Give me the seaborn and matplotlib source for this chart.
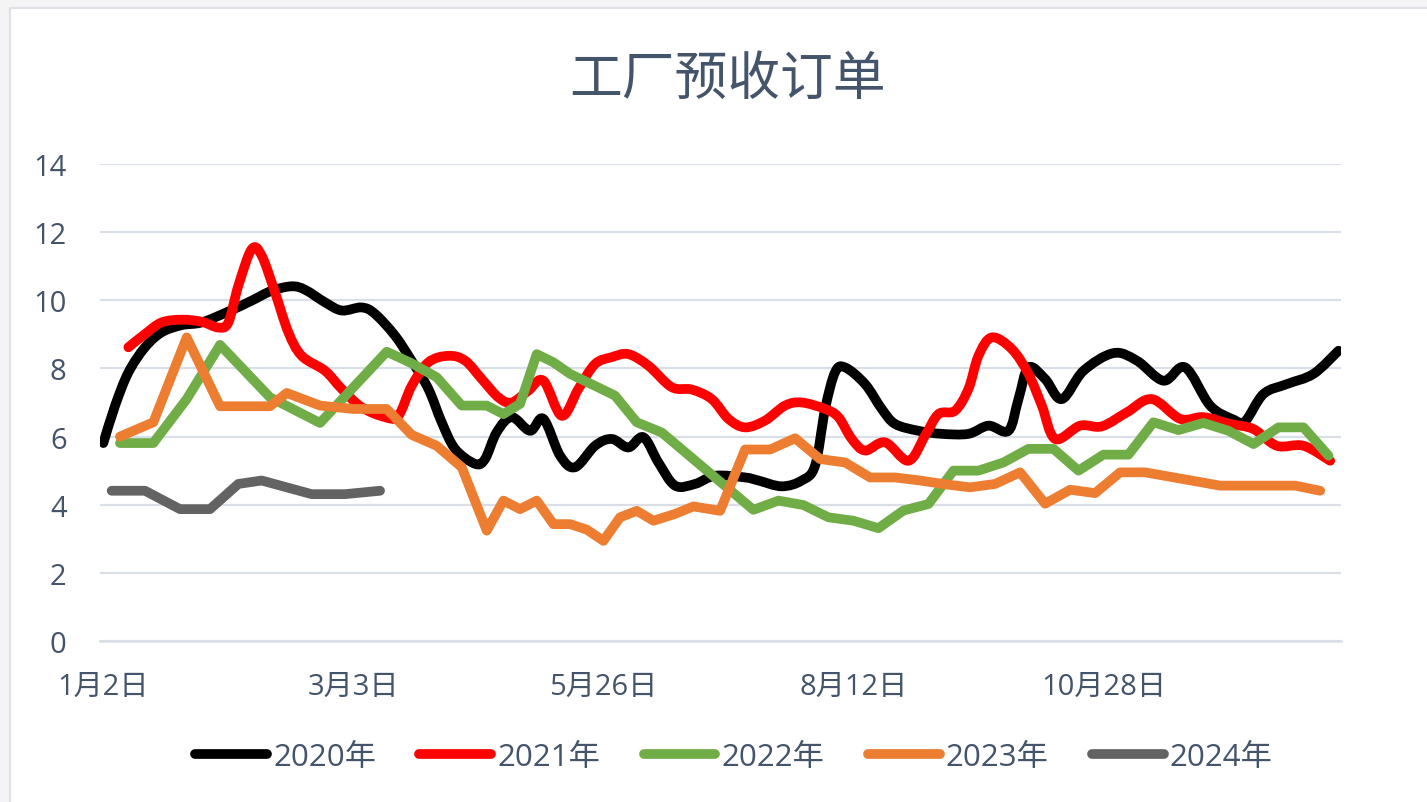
import matplotlib
matplotlib.use("Agg")
import matplotlib.pyplot as plt
import seaborn as sns
import pandas as pd
from matplotlib.patches import Rectangle, PathPatch
from matplotlib.path import Path
from matplotlib.colors import to_hex

# ---------------- data (x = category index along the date axis) ----------------
tick_pos = [0, 15, 30, 45, 60]
tick_labels = ["1月2日", "3月3日", "5月26日", "8月12日", "10月28日"]
y_ticks = [0, 2, 4, 6, 8, 10, 12, 14]

years = ["2020年", "2021年", "2022年", "2023年", "2024年"]

x2020 = [0, 0.7, 1.5, 2.5, 3.5, 4.7, 5.9, 7.5, 8.9, 10.1, 11.3, 12.1, 13.3, 14.3, 15.5,
         16.3, 17.5, 18.5, 19.5, 20.3, 21.1, 22.3, 22.9, 23.6, 24.5, 25.6, 26.4, 27.4, 28.3,
         29.5, 30.5, 31.5, 32.4, 33.3, 34.3, 35.5, 36.7, 38.5, 39.3, 40.7, 41.9, 42.7, 43.3,
         43.9, 44.5, 45.7, 46.7, 47.5, 48.9, 50.3, 51.9, 53.1, 54.3, 54.9, 55.5, 56.5, 57.5,
         58.8, 60.6, 62, 63.6, 64.9, 66.4, 67.8, 68.5, 69.6, 71, 72.6, 74.1]
y2020 = [5.81, 6.9, 7.88, 8.62, 9.06, 9.27, 9.35, 9.67, 9.99, 10.28, 10.41, 10.31, 9.94, 9.7,
         9.79, 9.6, 8.96, 8.22, 7.4, 6.42, 5.64, 5.2, 5.34, 6.13, 6.57, 6.17, 6.52, 5.44, 5.1,
         5.73, 5.93, 5.68, 5.98, 5.24, 4.56, 4.61, 4.85, 4.8, 4.71, 4.54, 4.71, 5.15, 6.81,
         7.89, 8.03, 7.54, 6.81, 6.37, 6.17, 6.08, 6.08, 6.32, 6.17, 7.1, 8.03, 7.69, 7.1,
         7.93, 8.45, 8.23, 7.64, 8.03, 6.91, 6.5, 6.45, 7.25, 7.54, 7.84, 8.52]

x2021 = [1.5, 2.5, 3.5, 4.7, 5.9, 6.9, 7.5, 8.1, 8.9, 9.5, 10.3, 11.1, 11.9, 13.3, 14.3,
         15.5, 16.9, 17.7, 18.5, 19.5, 20.7, 21.7, 22.7, 23.7, 24.5, 25.5, 26.4, 27.5, 28.5,
         29.5, 30.5, 31.5, 32.7, 34.1, 35.3, 36.5, 37.5, 38.5, 39.7, 40.9, 41.9, 43.3, 44.1,
         44.9, 45.7, 46.9, 48.3, 49.3, 50.1, 51.1, 51.9, 52.5, 53.3, 54.5, 55.5, 56.3, 57.1,
         58.6, 59.9, 61.4, 62.9, 64.6, 66, 67.6, 69, 70.4, 72, 73.6]
y2021 = [8.62, 9.01, 9.35, 9.43, 9.37, 9.2, 9.35, 10.43, 11.5, 11.31, 10.23, 9.06, 8.37,
         7.93, 7.4, 6.86, 6.57, 6.61, 7.49, 8.18, 8.37, 8.23, 7.69, 7.15, 7.0, 7.35, 7.64,
         6.61, 7.4, 8.13, 8.33, 8.42, 8.08, 7.45, 7.38, 7.1, 6.52, 6.27, 6.47, 6.91, 7.0,
         6.81, 6.57, 5.93, 5.59, 5.83, 5.29, 6.03, 6.66, 6.76, 7.4, 8.37, 8.91, 8.57, 7.84,
         6.91, 5.93, 6.32, 6.3, 6.71, 7.1, 6.52, 6.57, 6.37, 6.22, 5.73, 5.73, 5.29]

x2022 = [1, 3, 5, 7, 10, 13, 17, 18.5, 20, 21.5, 23, 24, 25, 26, 27, 28, 29.7, 30.7, 32,
         33.5, 39, 40.5, 42, 43.5, 45, 46.5, 48, 49.5, 51, 52.5, 54, 55.5, 57, 58.5, 60,
         61.5, 63, 64.5, 66, 67.5, 69, 70.5, 72, 73.5]
y2022 = [5.81, 5.81, 7.1, 8.69, 7.15, 6.4, 8.49, 8.15, 7.74, 6.91, 6.91, 6.66, 6.96, 8.42,
         8.18, 7.84, 7.44, 7.2, 6.42, 6.12, 3.85, 4.12, 3.99, 3.63, 3.53, 3.31, 3.83, 4.02,
         5.0, 5.0, 5.24, 5.64, 5.64, 5.0, 5.47, 5.47, 6.42, 6.19, 6.4, 6.17, 5.78, 6.27,
         6.27, 5.44]

x2023 = [1, 3, 5, 7, 10, 11, 13, 15, 17, 18.5, 20, 21.5, 23, 24, 25, 26, 27, 28, 29, 30,
         31, 32, 33, 34.3, 35.4, 37, 38.5, 40, 41.5, 43, 44.5, 46, 47.5, 49, 50.5, 52, 53.5,
         55, 56.5, 58, 59.5, 61, 62.5, 64, 65.5, 67, 68.5, 70, 71.5, 73]
y2023 = [6.0, 6.42, 8.91, 6.89, 6.89, 7.28, 6.91, 6.81, 6.81, 6.05, 5.73, 5.1, 3.24, 4.12,
         3.87, 4.12, 3.43, 3.43, 3.27, 2.94, 3.63, 3.82, 3.53, 3.73, 3.95, 3.82, 5.62, 5.62,
         5.95, 5.34, 5.24, 4.8, 4.8, 4.71, 4.6, 4.51, 4.61, 4.95, 4.03, 4.44, 4.34, 4.95,
         4.95, 4.82, 4.69, 4.56, 4.56, 4.56, 4.56, 4.41]

x2024 = [0.5, 2.5, 4.6, 6.4, 8.1, 9.5, 12.5, 14.5, 16.6]
y2024 = [4.41, 4.41, 3.87, 3.87, 4.61, 4.71, 4.31, 4.31, 4.41]

colors = ["#000000", "#FF0000", "#70AD47", "#ED7D31", "#636363"]
smoothed = {"#000000": 1.90, "#ff0000": 1.95}   # smoothed-line series -> zorder

# ---------------- build long table ----------------
frames = []
for name, xs, ys in zip(years, [x2020, x2021, x2022, x2023, x2024],
                        [y2020, y2021, y2022, y2023, y2024]):
    frames.append(pd.DataFrame({"x": xs, "value": ys, "year": name}))
df = pd.concat(frames, ignore_index=True)

sns.set_theme(style="white")
plt.rcParams["font.family"] = ["Open Sans", "Noto Sans CJK SC", "DejaVu Sans"]

TXT = "#44546A"
GRID = "#D9DEE7"
W, H = 1427, 803
LW = 7.0

fig = plt.figure(figsize=(W / 100, H / 100), dpi=100, facecolor="#F4F4F4")
fig.patches.append(Rectangle((10 / W, -0.1), 1.2, 0.1 + (1 - 9 / H), transform=fig.transFigure,
                             facecolor="white", edgecolor="#DDE1E8", lw=1.5, zorder=-10))

ax = fig.add_axes([100 / W, 161 / H, 1241 / W, 477 / H])
ax.set_facecolor("white")

sns.lineplot(data=df, x="x", y="value", hue="year", hue_order=years, palette=colors,
             linewidth=LW, estimator=None, ax=ax, solid_capstyle="round",
             solid_joinstyle="round")


def smooth_path(pts):
    """Excel-style smoothed line through the given points (cubic Bezier segments)."""
    n = len(pts)
    verts = [tuple(pts[0])]
    codes = [Path.MOVETO]
    for i in range(n - 1):
        p0 = pts[i - 1] if i > 0 else pts[i]
        p1, p2 = pts[i], pts[i + 1]
        p3 = pts[i + 2] if i + 2 < n else pts[i + 1]
        c1 = (p1[0] + (p2[0] - p0[0]) / 6, p1[1] + (p2[1] - p0[1]) / 6)
        c2 = (p2[0] - (p3[0] - p1[0]) / 6, p2[1] - (p3[1] - p1[1]) / 6)
        verts += [c1, c2, tuple(p2)]
        codes += [Path.CURVE4] * 3
    return Path(verts, codes)


# render the 2020 / 2021 series as smoothed curves (like the Excel original)
for line in list(ax.lines):
    xy = line.get_xydata()
    col = to_hex(line.get_color())
    if len(xy) > 1 and col in smoothed:
        patch = PathPatch(smooth_path(xy), facecolor="none", edgecolor=col, lw=LW,
                          capstyle="round", joinstyle="round", zorder=smoothed[col])
        ax.add_patch(patch)
        line.set_visible(False)

ax.set_xlim(-0.2, 74.25)
ax.set_ylim(0, 14)
ax.set_xticks(tick_pos)
ax.set_xticklabels(tick_labels)
ax.set_yticks(y_ticks)
ax.set_xticks([-0.2, 49.8], minor=True)
ax.tick_params(axis="x", which="major", length=0, pad=22, labelsize=21, labelcolor=TXT)
ax.tick_params(axis="x", which="minor", length=7, width=1.5, color=GRID)
ax.tick_params(axis="y", length=0, pad=24, labelsize=21, labelcolor=TXT)
ax.set_xlabel("")
ax.set_ylabel("")
ax.set_axisbelow(True)
ax.yaxis.grid(True, color=GRID, lw=1.6)
ax.xaxis.grid(False)
for s in ["top", "right", "left"]:
    ax.spines[s].set_visible(False)
ax.spines["bottom"].set_color(GRID)
ax.spines["bottom"].set_linewidth(1.8)

handles, labels = ax.get_legend_handles_labels()
leg = ax.legend(handles, labels, loc="center", bbox_to_anchor=(734 / W, 1 - 758 / H),
                bbox_transform=fig.transFigure, ncol=5, frameon=False, fontsize=22.5,
                handlelength=2.3, handletextpad=0.2, columnspacing=1.38, labelcolor=TXT)
for ln in leg.get_lines():
    ln.set_visible(True)
    ln.set_linewidth(LW)
    ln.set_solid_capstyle("round")

fig.text(728 / W, 1 - 81 / H, "工厂预收订单", ha="center", va="center", fontsize=38, color=TXT)

fig.savefig("out.png", dpi=100, facecolor=fig.get_facecolor())
